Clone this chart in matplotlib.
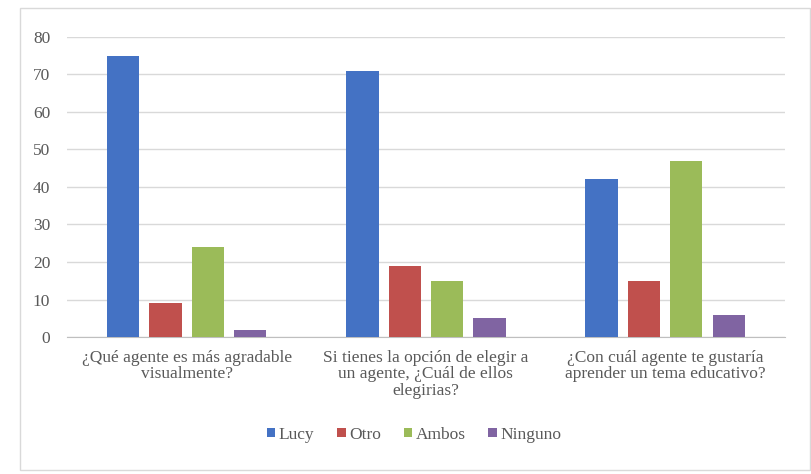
import numpy as np
import matplotlib.pyplot as plt
from matplotlib.patches import Rectangle

plt.rcParams['font.family'] = ['Liberation Serif', 'DejaVu Serif']

categories = ['¿Qué agente es más agradable\nvisualmente?',
              'Si tienes la opción de elegir a\nun agente, ¿Cuál de ellos\nelegirias?',
              '¿Con cuál agente te gustaría\naprender un tema educativo?']
series = ['Lucy', 'Otro', 'Ambos', 'Ninguno']
lucy = [75, 71, 42]
otro = [9, 19, 15]
ambos = [24, 15, 47]
ninguno = [2, 5, 6]
colors = ['#4472c4', '#c0504d', '#9bbb59', '#8064a2']

values = [lucy, otro, ambos, ninguno]
text_color = '#595959'

fig = plt.figure(figsize=(8.12, 4.74), dpi=100)
ax = fig.add_axes([0.0825, 0.289, 0.884, 0.633])

# chart border
fig.patches.append(Rectangle((0.025, 0.008), 0.972, 0.975, transform=fig.transFigure,
                             fill=False, edgecolor='#d9d9d9', linewidth=1))

x = np.arange(len(categories))
width = 0.135
step = 0.177
for i, (name, vals) in enumerate(zip(series, values)):
    ax.bar(x + (i - 1.5) * step, vals, width, color=colors[i], label=name, zorder=3)

ax.set_xlim(-0.5, 2.5)
ax.set_ylim(0, 80)
ax.set_yticks(range(0, 81, 10))
ax.yaxis.grid(True, color='#d9d9d9', linewidth=1, zorder=0)
for s in ['top', 'right', 'left']:
    ax.spines[s].set_visible(False)
ax.spines['bottom'].set_color('#bfbfbf')
ax.tick_params(axis='both', length=0, colors=text_color, labelsize=12.5)
ax.tick_params(axis='y', pad=12)
ax.tick_params(axis='x', pad=9)
ax.set_xticks(x)
ax.set_xticklabels(categories, linespacing=1.05)

leg = fig.legend(loc='center', bbox_to_anchor=(0.51, 0.083), ncol=4, frameon=False,
                 fontsize=12.5, handlelength=0.5, handleheight=0.5, handletextpad=0.2,
                 columnspacing=1.3)
for t in leg.get_texts():
    t.set_color(text_color)

fig.savefig('out.png', dpi=100)
